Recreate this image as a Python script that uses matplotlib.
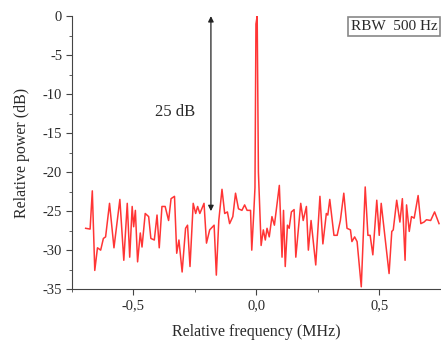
import matplotlib.pyplot as plt
from matplotlib.ticker import MultipleLocator, FuncFormatter

# spectrum trace (MHz, dB)
freq = [-0.694, -0.676, -0.667, -0.657, -0.646, -0.633, -0.622, -0.613, -0.597, -0.579,
        -0.555, -0.539, -0.525, -0.515, -0.505, -0.499, -0.492, -0.483, -0.472, -0.465,
        -0.452, -0.438, -0.429, -0.415, -0.404, -0.395, -0.384, -0.371, -0.357, -0.347,
        -0.333, -0.324, -0.315, -0.302, -0.288, -0.280, -0.270, -0.257, -0.247, -0.239,
        -0.230, -0.213, -0.203, -0.190, -0.172, -0.163, -0.153, -0.140, -0.129, -0.118,
        -0.109, -0.096, -0.085, -0.073, -0.059, -0.048, -0.038, -0.024, -0.019, -0.011,
        -0.006, -0.002, 0.003, 0.008, 0.019, 0.028, 0.036, 0.043, 0.052, 0.063, 0.073,
        0.093, 0.104, 0.110, 0.117, 0.126, 0.133, 0.142, 0.153, 0.160, 0.180,
        0.190, 0.203, 0.211, 0.222, 0.241, 0.258, 0.270, 0.284, 0.290, 0.298,
        0.315, 0.328, 0.341, 0.355, 0.368, 0.382, 0.388, 0.399, 0.409, 0.426,
        0.442, 0.453, 0.462, 0.473, 0.489, 0.499, 0.507, 0.539, 0.550, 0.556,
        0.570, 0.583, 0.593, 0.604, 0.610, 0.621, 0.630, 0.641, 0.657, 0.668,
        0.681, 0.691, 0.708, 0.724, 0.742]
power = [-27.2, -27.3, -22.4, -32.6, -29.7, -30.0, -28.5, -28.3, -24.0, -29.7,
         -23.5, -31.3, -24.0, -30.9, -24.4, -27.0, -24.9, -31.5, -27.8, -29.6,
         -25.3, -25.7, -28.5, -28.7, -25.5, -29.7, -24.4, -24.4, -26.2, -23.4,
         -23.1, -30.4, -28.7, -32.8, -27.2, -26.8, -32.1, -24.0, -25.3, -24.4,
         -25.3, -24.0, -29.1, -27.4, -26.8, -33.2, -26.2, -22.2, -25.3, -25.1,
         -26.6, -25.7, -22.7, -24.7, -24.9, -24.2, -24.9, -24.9, -30.0, -25.3,
         -22.0, -1.0, 0.0, -20.0, -29.4, -27.4, -28.7, -27.2, -28.3, -25.7, -26.8,
         -21.7, -30.9, -24.9, -32.1, -26.8, -27.2, -25.1, -24.8, -30.9, -24.0,
         -26.2, -24.4, -30.0, -26.2, -31.9, -23.1, -29.2, -25.3, -25.5, -23.5,
         -28.1, -28.1, -26.2, -22.7, -27.2, -27.4, -28.9, -28.3, -28.9, -34.7,
         -21.9, -28.1, -28.1, -30.6, -23.6, -28.1, -24.0, -33.0, -27.6, -27.4,
         -23.6, -26.4, -23.4, -31.3, -24.2, -27.6, -25.7, -25.9, -23.0, -26.6,
         -26.4, -26.1, -26.2, -25.1, -26.6]

plt.rcParams['font.family'] = ['Liberation Serif', 'DejaVu Serif']
plt.rcParams['font.size'] = 10.5

fig = plt.figure(figsize=(4.41, 3.43), dpi=100)
ax = fig.add_axes([0.163, 0.157, 0.837, 0.796])

ax.plot(freq, power, color='#ff3535', lw=1.1)

ax.set_xlim(-0.75, 0.75)
ax.set_ylim(-35, 0)
ax.xaxis.set_major_locator(MultipleLocator(0.5))
ax.xaxis.set_minor_locator(MultipleLocator(0.25))
ax.yaxis.set_major_locator(MultipleLocator(5))
ax.yaxis.set_minor_locator(MultipleLocator(2.5))
ax.xaxis.set_major_formatter(FuncFormatter(lambda v, p: f"{v:.1f}".replace('.', ',')))
ax.yaxis.set_major_formatter(FuncFormatter(lambda v, p: f"{v:.0f}"))

for s in ['top', 'right']:
    ax.spines[s].set_visible(False)
for s in ['left', 'bottom']:
    ax.spines[s].set_color('#444444')
ax.tick_params(which='major', direction='out', length=4, color='#444444',
               labelcolor='#2a2a2a', pad=3)
ax.tick_params(which='minor', direction='out', length=2.5, color='#444444')

ax.set_xlabel('Relative frequency (MHz)', fontsize=11.5, color='#2a2a2a', labelpad=9)
ax.set_ylabel('Relative power (dB)', fontsize=11.5, color='#2a2a2a', labelpad=9)

ax.annotate('', xy=(-0.185, 0), xytext=(-0.185, -25),
            arrowprops=dict(arrowstyle='<|-|>', color='#222222', lw=0.9,
                            mutation_scale=8, shrinkA=0, shrinkB=0))
ax.text(-0.33, -12.3, '25 dB', ha='center', va='center', fontsize=12, color='#2a2a2a')

ax.text(0.99, 0.985, 'RBW  500 Hz', transform=ax.transAxes, ha='right', va='top',
        fontsize=11, color='#2a2a2a',
        bbox=dict(boxstyle='square,pad=0.2', fc='white', ec='#888888', lw=1.2))

fig.savefig('out.png', dpi=100)
